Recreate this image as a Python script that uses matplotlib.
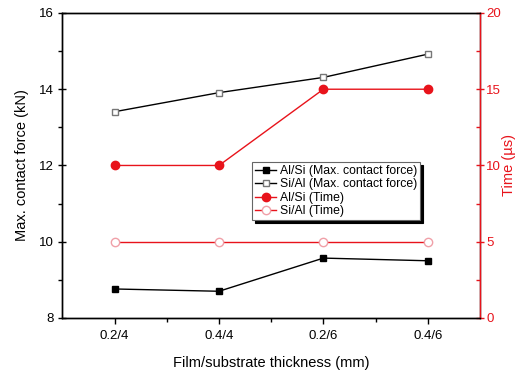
import matplotlib.pyplot as plt

plt.rcParams['font.family'] = ['Liberation Sans', 'DejaVu Sans']

thickness = ['0.2/4', '0.4/4', '0.2/6', '0.4/6']
force_alsi = [8.76, 8.70, 9.57, 9.50]
force_sial = [13.41, 13.91, 14.31, 14.92]
time_alsi = [10, 10, 15, 15]
time_sial = [5, 5, 5, 5]

red = '#e8131b'
x = list(range(len(thickness)))

fig, ax = plt.subplots(figsize=(5.2, 3.71), dpi=100)
fig.subplots_adjust(left=0.12, right=0.923, top=0.965, bottom=0.143)
ax2 = ax.twinx()

l1, = ax.plot(x, force_alsi, '-s', color='black', lw=1, ms=5, mfc='black', label='Al/Si (Max. contact force)')
l2, = ax.plot(x, force_sial, '-s', color='black', lw=1, ms=5, mfc='white', mec='#777777', label='Si/Al (Max. contact force)')
l3, = ax2.plot(x, time_alsi, '-o', color=red, lw=1, ms=6, label='Al/Si (Time)')
l4, = ax2.plot(x, time_sial, '-o', color=red, lw=1, ms=6, mfc='white', mec='#f0a0a8', label='Si/Al (Time)')

ax.set_xlim(-0.5, 3.5)
ax.set_ylim(8, 16)
ax.set_yticks([8, 10, 12, 14, 16])
ax.set_yticks([9, 11, 13, 15], minor=True)
ax.set_xticks(x)
ax.set_xticklabels(thickness)
ax.set_xticks([0.5, 1.5, 2.5], minor=True)
ax2.set_ylim(0, 20)
ax2.set_yticks([0, 5, 10, 15, 20])
ax2.set_yticks([2.5, 7.5, 12.5, 17.5], minor=True)

# left axis ticks straddle the spine, bottom ticks point out
ax.tick_params(axis='y', labelsize=9.5, length=6, width=1, direction='inout')
ax.tick_params(axis='y', which='minor', length=3, width=1, direction='out')
ax.tick_params(axis='x', labelsize=9.5, length=4, width=1, direction='out', pad=5)
ax.tick_params(axis='x', which='minor', length=3, width=1, direction='out')
ax2.tick_params(labelsize=9.5, length=6, width=1, colors=red, direction='inout', pad=1.5)
ax2.tick_params(which='minor', length=3, width=1, colors=red, direction='in')
for a in (ax, ax2):
    for s in a.spines.values():
        s.set_linewidth(1)
ax2.spines['right'].set_color(red)

ax.set_xlabel('Film/substrate thickness (mm)', fontsize=10.5, labelpad=10)
ax.set_ylabel('Max. contact force (kN)', fontsize=10.5, labelpad=7)
ax2.set_ylabel('Time (\u00b5s)', fontsize=10.5, color=red, labelpad=1)

leg = ax2.legend(handles=[l1, l2, l3, l4], loc='upper left', bbox_to_anchor=(0.455, 0.512),
                 fontsize=8.8, frameon=True, fancybox=False, edgecolor='#666666',
                 handlelength=1.7, handletextpad=0.3, borderpad=0.25, labelspacing=0.12,
                 borderaxespad=0, shadow={'color': 'black', 'alpha': 1})
leg.get_frame().set_linewidth(0.8)

fig.savefig('out.png', dpi=100)
